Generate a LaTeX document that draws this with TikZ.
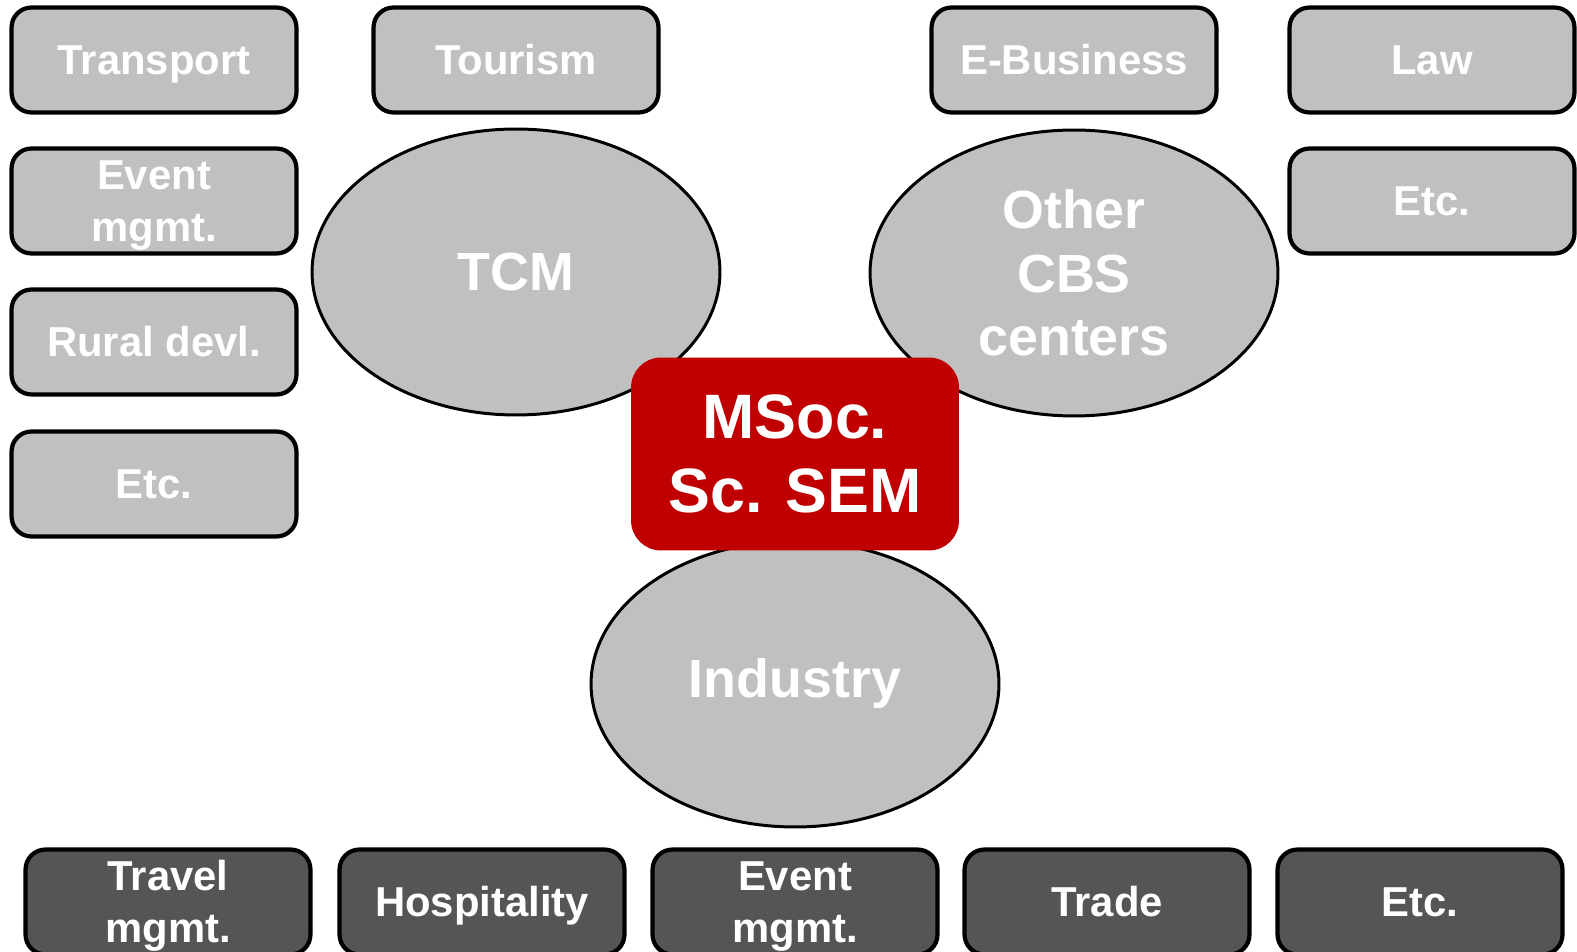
\documentclass[tikz,border=0pt]{standalone}
\usepackage{fontspec}
\setmainfont{Liberation Sans}
\usetikzlibrary{shapes.geometric}

\definecolor{boxgray}{RGB}{192,192,192}
\definecolor{darkgray}{RGB}{85,85,85}
\definecolor{semred}{RGB}{192,0,0}

\newcommand{\linestrut}{\rule[-0.25em]{0pt}{1.21em}}

\tikzset{
  field/.style={draw=black, line width=2.4pt, fill=boxgray, rounded corners=0.4cm,
    minimum width=5.7cm, minimum height=2.1cm, inner sep=0pt, text=white, align=center,
    font=\fontsize{23.8}{29.5}\selectfont\bfseries,
    execute at begin node=\linestrut, execute at end node=\linestrut},
  jobfield/.style={field, fill=darkgray},
  centre/.style={draw=black, line width=1.7pt, fill=boxgray, ellipse, inner sep=0pt,
    minimum width=8.16cm, minimum height=5.72cm, text=white, align=center,
    font=\fontsize{30.6}{36}\selectfont\bfseries},
  degree/.style={fill=semred, rounded corners=0.6cm, minimum width=6.56cm, minimum height=3.86cm,
    inner sep=0pt, text=white, align=center, font=\fontsize{35.7}{42.5}\selectfont\bfseries}
}

\begin{document}
\begin{tikzpicture}[x=0.02cm, y=-0.02cm]
  \useasboundingbox (0,0) rectangle (1577,952);
  \clip (0,0) rectangle (1577,952);

  % the three centres
  \node[centre] (tcm) at (516, 272) {TCM};
  \node[centre] (cbs) at (1074, 273) {Other\\CBS\\centers};
  \node[centre] (industry) at (795, 684) {Industry};
  \node[degree] (msoc) at (795, 454) {MSoc.\\Sc. SEM};

  % left column
  \node[field] (transport) at (154, 60) {Transport};
  \node[field] (event) at (154, 201) {\linestrut Event\\mgmt.};
  \node[field] (rural) at (154, 342) {Rural devl.};
  \node[field] (etcleft) at (154, 484) {Etc.};

  % top row and right column
  \node[field] (tourism) at (516, 60) {Tourism};
  \node[field] (ebusiness) at (1074, 60) {E-Business};
  \node[field] (law) at (1432, 60) {Law};
  \node[field] (etcright) at (1432, 201) {Etc.};

  % bottom row
  \node[jobfield] (travel) at (168, 902) {\linestrut Travel\\mgmt.};
  \node[jobfield] (hospitality) at (482, 902) {Hospitality};
  \node[jobfield] (eventjob) at (795, 902) {\linestrut Event\\mgmt.};
  \node[jobfield] (trade) at (1107, 902) {Trade};
  \node[jobfield] (etcjob) at (1420, 902) {Etc.};
\end{tikzpicture}
\end{document}
